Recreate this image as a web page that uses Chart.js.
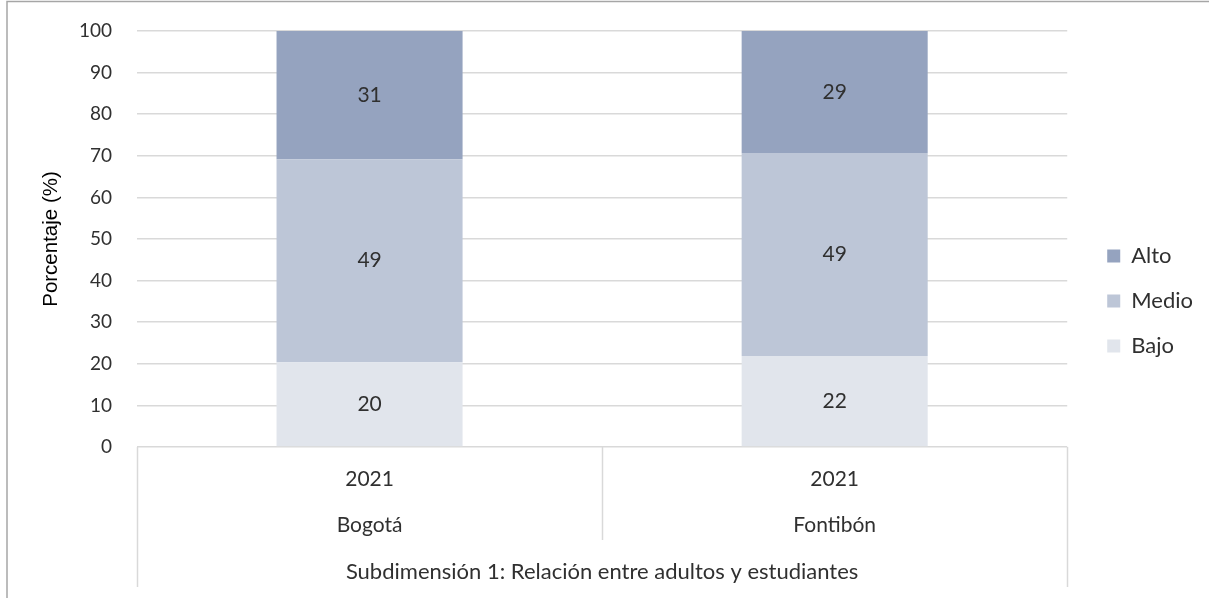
<!DOCTYPE html>
<html>
<head>
<meta charset="utf-8">
<script src="https://cdn.jsdelivr.net/npm/chart.js@4.4.1/dist/chart.umd.min.js"></script>
<style>
  html, body { margin: 0; padding: 0; background: #ffffff; }
  #wrap { position: relative; width: 1209px; height: 598px; }
  canvas { display: block; }
</style>
</head>
<body>
<div id="wrap"><canvas id="c" width="1209" height="598"></canvas></div>
<script>
// ---- data ----
const years = ["2021", "2021"];
const places = ["Bogotá", "Fontibón"];
const groupLabel = "Subdimensión 1: Relación entre adultos y estudiantes";
const seriesNames = ["Bajo", "Medio", "Alto"];
const bajo = [20.4, 21.9];
const medio = [48.8, 48.8];
const alto = [30.8, 29.3];
const yTicks = [0, 10, 20, 30, 40, 50, 60, 70, 80, 90, 100];
const yTitle = "Porcentaje (%)";

// ---- styles ----
const colors = ["#E1E5EC", "#BDC6D7", "#95A3BF"];
const FONT = "Lato, 'Open Sans', sans-serif";
const TXT = "#303030";
const GRID = "#D9D9D9";

const labels = years.map((y, i) => [y, places[i]]);
const seriesData = [bajo, medio, alto];

const frame = {
  id: 'frame',
  beforeDraw(chart) {
    const ctx = chart.ctx;
    ctx.save();
    ctx.strokeStyle = '#A6A6A6';
    ctx.lineWidth = 1.5;
    ctx.beginPath();
    ctx.moveTo(7, 598);
    ctx.lineTo(7, 1.5);
    ctx.lineTo(1209, 1.5);
    ctx.stroke();
    ctx.restore();
  },
  afterDraw(chart) {
    const ctx = chart.ctx;
    const xs = chart.scales.x;
    const bottom = chart.chartArea.bottom;
    ctx.save();
    ctx.strokeStyle = GRID;
    ctx.lineWidth = 1.5;
    const mid = (xs.getPixelForTick(0) + xs.getPixelForTick(1)) / 2;
    const lines = [[xs.left, chart.height - 11], [mid, bottom + 93], [xs.right, chart.height - 11]];
    lines.forEach(([x, yb]) => {
      const px = Math.round(x) + 0.5;
      ctx.beginPath();
      ctx.moveTo(px, bottom);
      ctx.lineTo(px, yb);
      ctx.stroke();
    });
    // data labels
    ctx.fillStyle = TXT;
    ctx.font = "21px " + FONT;
    ctx.textAlign = 'center';
    ctx.textBaseline = 'middle';
    chart.data.datasets.forEach((ds, di) => {
      const meta = chart.getDatasetMeta(di);
      meta.data.forEach((el, i) => {
        const v = ds.data[i];
        ctx.fillText(String(Math.round(v)), el.x, (el.y + el.base) / 2);
      });
    });
    ctx.restore();
  }
};

new Chart(document.getElementById('c'), {
  type: 'bar',
  data: {
    labels: labels,
    datasets: seriesNames.map((n, i) => ({
      label: n,
      data: seriesData[i],
      backgroundColor: colors[i],
      borderWidth: 0,
      barPercentage: 0.4,
      categoryPercentage: 1.0
    }))
  },
  options: {
    responsive: false,
    animation: false,
    layout: { padding: { left: 8, top: 4, right: 6, bottom: 0 } },
    plugins: {
      legend: {
        position: 'right',
        reverse: true,
        labels: {
          boxWidth: 13, boxHeight: 13, padding: 23,
          color: TXT,
          font: { family: FONT, size: 22 }
        }
      },
      tooltip: { enabled: false },
      title: { display: false }
    },
    scales: {
      x: {
        stacked: true,
        grid: { display: false, drawTicks: false },
        border: { display: false },
        ticks: {
          color: TXT, padding: 9, maxRotation: 0, autoSkip: false,
          font: { family: FONT, size: 21, lineHeight: 46 / 21 }
        },
        title: {
          display: true, text: groupLabel, color: TXT,
          font: { family: FONT, size: 22 },
          padding: { top: 0, bottom: 12.8 }
        },
        afterFit(s) { s.height = 151; }
      },
      x2: {
        type: 'category', position: 'top', display: true,
        grid: { display: false, drawTicks: false },
        border: { display: false },
        ticks: { display: false },
        afterFit(s) { s.height = 27; }
      },
      y: {
        stacked: true,
        min: 0, max: 100,
        afterBuildTicks(s) { s.ticks = yTicks.map(v => ({ value: v })); },
        grid: { color: GRID, lineWidth: 1.5, drawTicks: false },
        border: { display: false },
        ticks: {
          color: TXT, padding: 25,
          font: { family: FONT, size: 19 }
        },
        title: {
          display: true, text: yTitle, color: '#000000',
          font: { family: "'Liberation Sans', Arial, sans-serif", size: 20.5 },
          padding: { top: 31, bottom: 0 }
        },
        afterFit(s) { s.width = 129; s.paddingTop = 12; s.paddingBottom = 12; }
      },
      y2: {
        type: 'linear', position: 'right', display: true,
        grid: { display: false, drawTicks: false },
        border: { display: false },
        ticks: { display: false },
        afterFit(s) { s.width = 17; }
      }
    }
  },
  plugins: [frame]
});
</script>
</body>
</html>
